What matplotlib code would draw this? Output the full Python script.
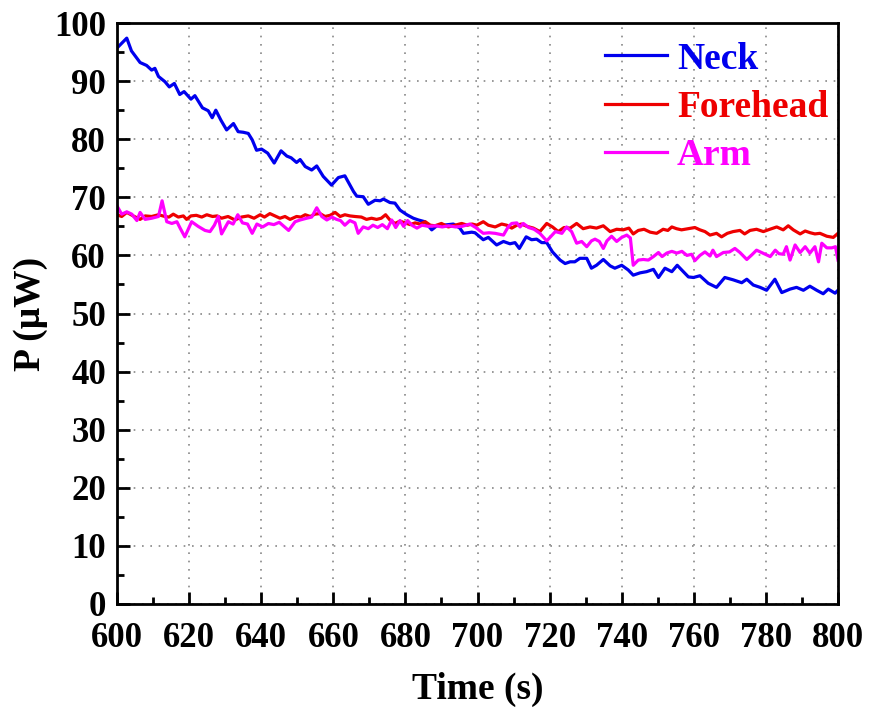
import matplotlib
matplotlib.use("Agg")
import matplotlib.pyplot as plt
from matplotlib.ticker import MultipleLocator

plt.rcParams['font.family'] = ['Liberation Serif', 'DejaVu Serif']
plt.rcParams['font.weight'] = 'bold'

# Neck
neck_t = [600.0, 602.7, 604.0, 606.4, 608.2, 609.6, 610.5, 611.5, 613.3, 614.5, 615.9, 617.4, 618.6,
          620.5, 621.6, 623.7, 625.3, 626.4, 627.4, 628.8, 630.4, 632.3, 633.6, 635.0, 636.4, 637.5,
          638.7, 640.1, 641.8, 643.6, 645.5, 647.1, 648.3, 649.8, 650.8, 652.2, 654.0, 655.4, 657.2,
          659.5, 661.4, 663.2, 665.6, 666.5, 668.3, 669.7, 671.6, 673.0, 673.9, 675.7, 677.1, 678.5,
          680.4, 682.2, 683.6, 685.4, 687.3, 688.7, 690.5, 693.3, 695.1, 696.1, 698.4, 699.3, 701.6,
          703.0, 705.3, 707.2, 709.0, 710.4, 711.6, 713.5, 715.0, 716.4, 717.8, 719.2, 720.8, 722.9,
          724.3, 725.7, 727.0, 728.4, 730.3, 731.6, 733.0, 734.9, 736.8, 738.1, 740.0, 741.8, 743.2,
          745.1, 746.9, 748.8, 750.2, 752.0, 753.9, 755.4, 757.1, 758.5, 759.9, 761.7, 764.0, 766.3,
          768.6, 770.9, 773.3, 774.7, 776.5, 778.4, 780.2, 782.5, 784.4, 786.7, 788.5, 790.4, 792.2,
          794.1, 795.9, 797.3, 799.2, 800.0]
neck_p = [95.7, 97.4, 95.2, 93.2, 92.7, 91.9, 92.2, 90.8, 89.9, 89.0, 89.6, 87.7, 88.2,
          86.9, 87.5, 85.4, 84.9, 83.7, 85.0, 83.3, 81.6, 82.7, 81.3, 81.2, 81.0, 79.9,
          78.1, 78.3, 77.6, 75.9, 78.0, 77.1, 76.8, 76.0, 76.5, 75.3, 74.7, 75.4, 73.6,
          72.1, 73.4, 73.7, 71.0, 70.2, 70.1, 68.8, 69.5, 69.4, 69.7, 69.1, 69.0, 67.8,
          67.0, 66.4, 66.1, 65.8, 64.4, 65.1, 65.2, 65.4, 64.7, 63.8, 64.0, 63.9, 62.7,
          63.1, 61.8, 62.4, 62.0, 62.2, 61.2, 63.2, 62.7, 62.8, 62.2, 62.2, 60.6, 59.2,
          58.6, 58.9, 58.9, 59.5, 59.5, 57.8, 58.3, 59.3, 58.2, 57.8, 58.3, 57.5, 56.6,
          57.0, 57.2, 57.6, 56.2, 57.8, 57.2, 58.3, 57.2, 56.3, 56.2, 56.5, 55.2, 54.5,
          56.2, 55.8, 55.3, 55.9, 54.9, 54.5, 54.0, 55.9, 53.6, 54.2, 54.5, 54.0, 54.7,
          54.0, 53.4, 54.2, 53.5, 54.0]

# Forehead
forehead_t = [600.0, 601.3, 602.7, 604.5, 606.4, 607.8, 609.6, 611.5, 613.3, 614.4, 615.6, 617.0, 618.4,
              619.3, 620.5, 622.0, 623.5, 624.9, 626.5, 627.8, 629.0, 630.8, 632.7, 634.5, 636.4, 638.0,
              639.7, 640.9, 642.4, 643.8, 645.2, 646.6, 648.0, 649.8, 651.0, 652.2, 653.6, 654.9, 656.3,
              657.7, 659.1, 660.5, 661.9, 663.2, 664.6, 666.0, 667.8, 669.2, 670.6, 672.0, 673.3, 674.5,
              675.7, 677.1, 678.5, 679.9, 681.3, 682.7, 684.1, 685.5, 686.9, 688.2, 690.0, 691.9, 693.7,
              695.6, 697.2, 698.5, 699.8, 701.6, 703.0, 704.9, 706.7, 708.1, 709.5, 710.9, 712.2, 713.7,
              715.5, 717.3, 719.2, 720.8, 722.4, 724.0, 725.7, 727.5, 729.3, 731.2, 733.0, 734.9, 736.8,
              738.6, 740.4, 742.0, 743.2, 744.6, 746.2, 747.9, 749.7, 751.5, 752.8, 753.9, 755.2, 756.6,
              758.4, 760.3, 761.7, 763.1, 764.5, 766.3, 767.7, 769.3, 770.9, 772.8, 774.1, 775.6, 777.4,
              779.3, 781.1, 783.0, 784.8, 786.2, 787.6, 789.5, 790.9, 792.3, 793.6, 795.0, 796.9, 798.7,
              800.0]
forehead_p = [67.0, 66.7, 67.4, 66.8, 66.2, 66.8, 66.7, 67.0, 66.7, 66.6, 67.1, 66.6, 66.8,
              66.2, 66.8, 66.9, 66.6, 67.0, 66.7, 66.8, 66.4, 66.7, 66.1, 66.6, 66.8, 66.4,
              67.0, 66.6, 67.2, 66.8, 66.4, 66.7, 66.2, 66.7, 66.6, 67.0, 66.7, 67.1, 67.2,
              66.7, 66.9, 67.4, 66.7, 67.0, 66.8, 66.7, 66.6, 66.2, 66.4, 66.2, 66.4, 67.0,
              66.1, 65.5, 65.9, 65.6, 65.3, 65.6, 65.4, 65.8, 65.2, 65.1, 65.5, 64.9, 65.2,
              65.5, 65.2, 65.4, 65.2, 65.8, 65.2, 64.9, 65.4, 65.2, 64.7, 65.2, 65.4, 65.0,
              64.7, 64.1, 65.5, 64.9, 64.1, 64.8, 64.7, 65.5, 64.6, 64.9, 64.7, 65.1, 64.1,
              64.5, 64.4, 64.7, 63.7, 64.3, 64.5, 64.0, 63.8, 64.5, 64.3, 64.9, 64.6, 64.4,
              64.6, 64.8, 64.4, 64.1, 63.5, 63.8, 63.2, 63.8, 64.1, 64.3, 63.7, 64.3, 64.5,
              64.1, 64.5, 64.9, 64.4, 65.1, 64.4, 63.7, 64.2, 63.9, 63.7, 63.8, 63.3, 63.1,
              63.8]

# Arm
arm_t = [600.0, 601.3, 602.7, 604.1, 605.5, 606.4, 607.8, 609.6, 611.5, 612.5, 613.8, 615.2, 616.6,
         617.5, 618.8, 620.7, 622.5, 624.4, 625.8, 627.0, 628.1, 629.0, 630.9, 632.2, 633.5, 634.8,
         636.2, 637.5, 638.8, 640.4, 642.0, 643.5, 645.0, 646.3, 647.6, 649.4, 650.8, 652.6, 654.0,
         655.4, 656.8, 658.2, 659.6, 660.9, 662.0, 663.2, 664.6, 666.0, 666.9, 668.3, 669.7, 671.0,
         672.3, 673.6, 675.0, 676.2, 677.3, 678.5, 679.5, 680.6, 681.8, 683.2, 684.6, 686.4, 688.3,
         690.2, 692.0, 693.9, 695.7, 697.9, 699.5, 701.6, 703.2, 704.9, 707.2, 708.5, 709.5, 710.9,
         711.8, 712.7, 714.2, 715.7, 717.3, 719.2, 720.4, 721.6, 723.4, 724.7, 726.1, 727.5, 728.9,
         730.3, 731.6, 732.6, 733.8, 734.9, 735.9, 737.2, 738.6, 740.0, 741.4, 742.4, 743.2, 744.6,
         746.0, 747.4, 748.8, 750.2, 751.2, 752.5, 753.9, 755.3, 756.7, 758.1, 759.4, 760.3, 761.7,
         763.1, 764.5, 765.3, 766.3, 768.2, 769.9, 771.4, 772.8, 774.7, 776.1, 777.4, 778.8, 779.8,
         781.2, 782.6, 783.6, 784.8, 785.7, 786.7, 788.1, 789.5, 790.9, 792.2, 793.6, 794.6, 795.5,
         796.9, 798.3, 799.3, 800.0]
arm_p = [68.5, 67.1, 67.5, 67.1, 66.0, 67.4, 66.2, 66.4, 66.7, 69.4, 65.8, 65.5, 65.8,
         64.7, 63.2, 65.8, 65.0, 64.3, 64.1, 65.2, 66.7, 63.7, 65.8, 65.4, 67.0, 65.6,
         65.4, 63.8, 65.4, 64.9, 65.5, 65.3, 65.7, 65.0, 64.3, 65.8, 66.1, 66.4, 66.6,
         68.2, 66.7, 66.1, 66.6, 66.2, 66.0, 65.2, 66.0, 65.6, 63.8, 64.9, 64.6, 65.2,
         64.8, 65.3, 64.6, 66.1, 64.8, 66.0, 65.0, 66.0, 65.2, 64.7, 65.2, 65.0, 65.1,
         64.9, 65.1, 64.9, 65.0, 65.4, 64.8, 63.8, 63.9, 63.8, 63.5, 64.9, 65.5, 65.6,
         64.9, 65.5, 64.8, 64.5, 63.8, 62.5, 63.3, 64.1, 63.8, 64.9, 64.1, 62.1, 62.4,
         61.5, 62.5, 62.8, 62.4, 61.2, 62.5, 63.3, 62.4, 63.1, 63.5, 63.0, 58.3, 59.2,
         59.3, 59.2, 59.8, 60.5, 59.8, 60.4, 60.7, 60.4, 60.7, 60.0, 60.2, 59.1, 60.0,
         60.6, 59.9, 60.9, 59.8, 60.5, 60.6, 61.2, 60.5, 59.3, 60.1, 60.9, 60.5, 60.2,
         59.8, 60.9, 60.3, 60.2, 61.5, 59.2, 61.8, 60.5, 61.5, 60.4, 61.5, 58.9, 62.1,
         61.3, 61.3, 61.5, 59.2]

series = [("Neck", neck_t, neck_p, "#0000ee"),
          ("Forehead", forehead_t, forehead_p, "#ee0000"),
          ("Arm", arm_t, arm_p, "#ff00ff")]

x_ticks = list(range(600, 801, 20))
y_ticks = list(range(0, 101, 10))

fig = plt.figure(figsize=(8.74, 7.13), dpi=100)
ax = fig.add_axes([0.1339, 0.1529, 0.8249, 0.8148])

for name, t, p, c in series:
    ax.plot(t, p, color=c, lw=2.3, label=name)

ax.set_xlim(600, 800)
ax.set_ylim(0, 100)
ax.set_xticks(x_ticks)
ax.set_yticks(y_ticks)
ax.xaxis.set_minor_locator(MultipleLocator(10))
ax.yaxis.set_minor_locator(MultipleLocator(5))
ax.tick_params(which='major', direction='in', length=9, width=2, labelsize=25)
ax.tick_params(axis='x', which='major', pad=13)
ax.tick_params(axis='y', which='major', pad=8)
ax.tick_params(which='minor', direction='in', length=5, width=2)
for lab in ax.get_xticklabels() + ax.get_yticklabels():
    lab.set_fontweight('bold')

ax.grid(True, which='major', color='#888888', linestyle=(0, (1, 4)), lw=1.2)
for s in ax.spines.values():
    s.set_linewidth(2)
    s.set_color('black')

ax.set_xlabel("Time (s)", fontsize=27, fontweight='bold', labelpad=12)
ax.set_ylabel("P (\u03bcW)", fontsize=27, fontweight='bold', labelpad=4)

leg = ax.legend(loc='upper left', bbox_to_anchor=(0.677, 0.968), frameon=False,
                handlelength=1.65, handletextpad=0.27, labelspacing=0.35,
                borderpad=0, borderaxespad=0, prop={'weight': 'bold', 'size': 27})
for line in leg.get_lines():
    line.set_linewidth(2.3)
for txt, (_, _, _, c) in zip(leg.get_texts(), series):
    txt.set_color(c)

fig.savefig("out.png", dpi=100)
